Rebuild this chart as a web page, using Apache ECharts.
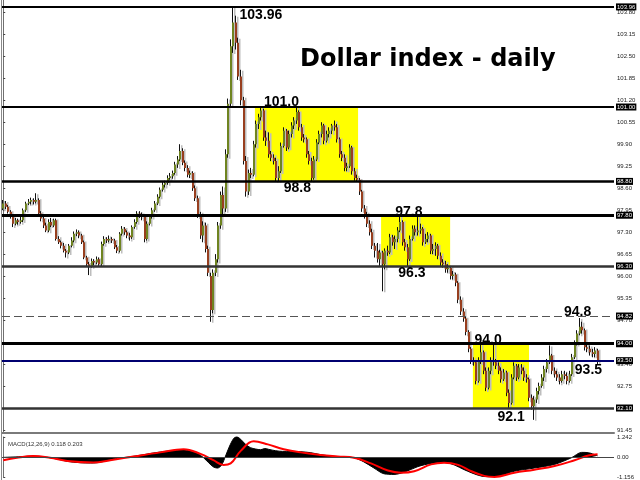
<!DOCTYPE html>
<html><head><meta charset="utf-8">
<script src="https://cdn.jsdelivr.net/npm/echarts@6/dist/echarts.min.js"></script>
<style>html,body{margin:0;padding:0;background:#fff}#c{width:640px;height:480px}</style>
</head><body><div id="c"></div>
<script>
// ---- DATA ----
const title = 'Dollar index - daily';
const macdTitle = 'MACD(12,26,9) 0.118 0.203';
// daily candles [open, close, low, high]
const ohlc = [
[98.00,98.15,97.95,98.25],[98.15,98.05,97.98,98.22],[98.05,97.90,97.85,98.10],[97.90,97.75,97.70,97.95],[97.75,97.55,97.45,97.80],
[97.55,97.65,97.50,97.72],[97.65,97.60,97.52,97.70],[97.60,97.65,97.55,97.75],[97.65,97.95,97.60,98.00],[97.95,98.15,97.90,98.20],
[98.15,98.20,98.10,98.28],[98.20,98.25,98.12,98.32],[98.25,98.20,98.12,98.30],[98.20,98.25,98.15,98.45],[98.25,97.85,97.80,98.30],
[97.85,97.70,97.62,97.92],[97.70,97.50,97.42,97.75],[97.50,97.35,97.30,97.58],[97.35,97.60,97.30,97.68],[97.60,97.50,97.45,97.72],
[97.50,97.65,97.45,97.70],[97.65,97.10,97.05,97.70],[97.10,97.00,96.95,97.18],[97.00,96.90,96.82,97.05],[96.90,96.75,96.70,96.98],
[96.75,96.70,96.55,96.80],[96.70,96.90,96.65,96.95],[96.90,97.05,96.85,97.15],[97.05,97.25,97.00,97.32],[97.25,97.30,97.18,97.38],
[97.30,97.20,97.12,97.35],[97.20,97.00,96.95,97.25],[97.00,96.55,96.50,97.05],[96.55,96.35,96.28,96.60],[96.35,96.30,96.03,96.42],
[96.30,96.45,96.25,96.52],[96.45,96.40,96.32,96.50],[96.40,96.50,96.35,96.58],[96.50,96.35,96.30,96.55],[96.35,96.95,96.30,97.02],
[96.95,97.10,96.90,97.18],[97.10,97.05,96.98,97.15],[97.05,97.10,97.00,97.20],[97.10,97.05,96.98,97.15],[97.05,96.85,96.80,97.10],
[96.85,96.75,96.68,96.92],[96.75,97.25,96.70,97.30],[97.25,97.40,97.20,97.48],[97.40,97.30,97.22,97.45],[97.30,97.20,97.12,97.35],
[97.20,97.15,97.05,97.28],[97.15,97.45,97.10,97.50],[97.45,97.60,97.40,97.68],[97.60,97.85,97.55,97.92],[97.85,97.80,97.72,97.92],
[97.80,97.75,97.65,97.88],[97.75,97.10,97.00,97.80],[97.10,97.55,97.05,97.62],[97.55,97.75,97.50,97.82],[97.75,97.95,97.70,98.02],
[97.95,98.15,97.90,98.22],[98.15,98.35,98.10,98.42],[98.35,98.55,98.30,98.62],[98.55,98.70,98.50,98.78],[98.70,98.75,98.62,98.82],
[98.75,98.90,98.70,98.98],[98.90,98.95,98.85,99.05],[98.95,99.05,98.88,99.12],[99.05,99.30,99.00,99.38],[99.30,99.45,99.20,99.55],
[99.45,99.70,99.40,99.90],[99.70,99.35,99.28,99.78],[99.35,99.20,99.10,99.42],[99.20,99.00,98.92,99.28],[99.00,99.05,98.90,99.12],
[99.05,98.60,98.52,99.10],[98.60,98.30,98.22,98.68],[98.30,97.80,97.72,98.38],[97.80,97.20,97.10,97.90],[97.20,97.50,97.00,97.62],
[97.50,96.80,96.70,97.58],[96.80,96.10,96.00,96.90],[96.00,95.00,94.65,96.10],
[95.00,96.10,94.90,96.20],[96.10,96.50,96.00,96.65],[96.50,97.50,96.40,97.60],[97.50,98.40,97.40,98.50],[98.40,98.00,97.80,98.65],
[98.00,99.60,97.90,99.75],[99.60,101.10,99.50,101.25],[101.10,102.80,101.00,103.00],[102.80,103.50,102.60,103.96],[103.50,102.90,102.70,103.70],
[102.90,101.90,101.80,103.05],[101.90,101.20,101.05,102.10],[101.20,99.40,99.30,101.30],[99.40,98.50,98.35,99.55],[98.50,99.05,98.40,99.15],
[99.05,99.00,98.90,99.20],[99.00,99.90,98.95,100.00],[99.90,100.50,99.80,100.60],[100.50,100.70,100.35,100.80],[100.70,100.90,100.60,101.00],
[100.90,100.10,100.00,100.95],[100.10,100.00,99.85,100.30],[100.00,99.60,99.50,100.25],[99.60,99.50,99.40,99.70],[99.50,99.40,99.30,99.60],
[99.40,98.90,98.80,99.50],[98.90,99.10,98.80,99.25],[99.10,99.85,99.05,99.95],[99.85,100.30,99.80,100.40],[100.30,99.80,99.70,100.35],
[99.80,100.20,99.75,100.30],[100.20,100.45,100.10,100.55],[100.45,100.60,100.35,100.70],[100.60,100.85,100.50,101.00],[100.85,100.40,100.30,100.90],
[100.40,100.10,100.00,100.50],[100.10,100.05,99.95,100.20],[100.05,99.60,99.50,100.10],[99.60,99.40,99.30,99.70],[99.40,98.90,98.80,99.50],
[98.90,99.45,98.85,99.55],[99.45,99.95,99.40,100.05],[99.95,100.20,99.90,100.30],[100.20,100.45,100.10,100.55],[100.45,100.00,99.90,100.50],
[100.00,100.20,99.95,100.30],[100.20,100.30,100.10,100.40],[100.30,100.45,100.20,100.50],[100.45,100.40,100.30,100.60],[100.40,100.05,99.95,100.50],
[100.05,99.60,99.50,100.10],[99.60,99.50,99.40,99.70],[99.50,99.20,99.10,99.60],[99.20,99.25,99.10,99.35],[99.25,99.80,99.20,99.90],
[99.80,99.10,99.00,99.85],[99.10,98.90,98.82,99.20],[98.90,98.85,98.80,99.00],[98.85,98.50,98.40,98.90],[98.50,98.00,97.90,98.55],
[98.00,97.80,97.70,98.10],[97.80,97.55,97.45,97.90],[97.55,97.30,97.20,97.65],[97.30,96.90,96.80,97.40],[96.90,96.75,96.55,96.98],
[96.75,96.50,96.40,96.98],[96.50,96.70,96.30,96.78],[96.70,96.35,95.55,96.75],[96.35,96.75,96.20,96.82],[96.75,96.70,96.60,96.90],
[96.70,97.15,96.65,97.25],[97.15,97.00,96.90,97.22],[97.00,97.10,96.80,97.20],[97.10,97.35,97.00,97.45],[97.35,97.60,97.30,97.80],
[97.60,97.00,96.90,97.65],[97.00,96.85,96.75,97.10],[96.85,96.50,96.30,96.95],[96.50,97.10,96.45,97.20],[97.10,97.40,97.05,97.50],
[97.40,97.30,97.20,97.50],[97.30,97.35,97.20,97.80],[97.35,97.40,97.25,97.55],[97.40,97.00,96.90,97.45],[97.00,97.10,96.95,97.25],
[97.10,97.20,97.00,97.30],[97.20,96.75,96.65,97.25],[96.75,96.80,96.65,96.95],[96.80,96.90,96.60,97.00],[96.90,96.60,96.50,96.95],
[96.60,96.40,96.30,96.70],[96.40,96.35,96.25,96.50],[96.35,96.20,96.10,96.45],[96.20,96.25,96.10,96.35],[96.25,96.00,95.90,96.30],
[96.00,96.05,95.90,96.15],[96.05,95.80,95.70,96.10],[95.80,95.30,95.20,95.85],[95.30,94.95,94.85,95.40],[94.95,94.75,94.65,95.05],
[94.75,94.35,94.25,94.80],[94.35,93.85,93.75,94.40],[93.85,93.50,93.40,93.90],[93.50,93.45,93.35,93.60],[93.45,92.90,92.80,93.50],
[92.90,93.50,92.85,93.60],[93.50,93.75,93.40,94.00],[93.75,93.20,93.10,93.80],[93.20,92.70,92.60,93.30],[92.70,93.20,92.65,93.30],
[93.20,93.50,93.10,93.60],[93.50,93.45,93.35,94.00],[93.45,93.35,93.25,93.55],[93.35,93.20,93.10,93.45],[93.20,92.95,92.85,93.30],
[92.95,93.15,92.90,93.25],[93.15,92.55,92.45,93.20],[92.55,92.25,92.10,92.65],[92.25,93.00,92.20,93.10],[93.00,93.35,92.95,93.45],
[93.35,93.00,92.90,93.40],[93.00,93.30,92.95,93.40],[93.30,93.20,93.10,93.40],[93.20,93.00,92.90,93.30],[93.00,92.95,92.85,93.10],
[92.95,92.40,92.30,93.00],[92.40,92.15,92.05,92.50],[92.15,92.35,91.75,92.45],[92.35,92.60,92.25,92.70],[92.60,92.75,92.50,92.85],
[92.75,93.00,92.70,93.10],[93.00,93.25,92.90,93.35],[93.25,93.45,93.15,93.55],[93.45,93.65,93.40,93.95],[93.65,93.20,93.10,93.70],
[93.20,93.10,93.00,93.30],[93.10,93.00,92.90,93.20],[93.00,92.90,92.80,93.10],[92.90,93.10,92.85,93.20],[93.10,93.05,92.95,93.20],
[93.05,92.90,92.80,93.15],[92.90,93.10,92.85,93.20],[93.10,93.60,93.05,93.70],[93.60,94.00,93.55,94.10],[94.00,94.30,93.95,94.40],
[94.30,94.50,94.25,94.76],[94.50,94.40,94.30,94.65],[94.40,93.90,93.80,94.45],[93.90,93.85,93.75,94.00],[93.85,93.75,93.65,93.95],
[93.75,93.70,93.60,93.85],[93.70,93.80,93.60,93.90],[93.80,93.50,93.40,93.85]
];
const slots = 242; // bar slots across the chart (incl. empty right margin)
// MACD main (histogram) [bar index, value]
const macdMain = [
[0,0.02],[7,0.06],[12,0.1],[16,0.05],[18.5,0],[22.5,-0.12],[25.3,-0.22],[30.4,-0.3],[34.4,-0.32],[37.1,-0.3],
[40.3,-0.2],[42.3,-0.1],[46.3,-0.02],[51.4,0.08],[56.2,0.2],[60.1,0.3],[64.1,0.38],[68.1,0.45],[70.9,0.47],[74,0.4],
[76.8,0.25],[79.2,0],[81.2,-0.3],[83.1,-0.55],[84.7,-0.62],[86.3,-0.45],[87.9,0.1],[89.5,0.7],[91.1,1.15],[92.3,1.26],
[93.9,1.1],[95.8,0.8],[97.8,0.6],[99.8,0.52],[101.8,0.48],[103.4,0.55],[105,0.5],[107.7,0.42],[110.5,0.38],[113.7,0.38],
[117.6,0.36],[121.6,0.3],[125.6,0.18],[130.7,0.08],[134.7,0.05],[138.7,0],[142.6,-0.25],[146.6,-0.62],[150.5,-0.96],[154.5,-1.0],
[158.5,-0.87],[164,-0.53],[169.2,-0.34],[174.3,-0.28],[178.3,-0.43],[182.3,-0.72],[187.8,-1.05],[191.8,-1.15],[195.8,-1.1],[202.1,-0.81],
[210,-0.62],[218,-0.4],[224.7,0],[228.7,0.32],[231.4,0.3],[235,0.118]
];
// MACD signal [bar index, value]
const macdSignal = [
[0,-0.15],[5.4,0],[11.8,0.1],[18.5,0],[25.3,-0.19],[35.6,-0.28],[42.3,-0.15],[51.4,0.07],[62.1,0.32],[71.3,0.51],
[78,0.23],[83.1,-0.15],[87.1,-0.43],[89.9,-0.34],[93.9,0.41],[99,0.98],[104.6,0.8],[110.9,0.51],[117.6,0.32],[125.6,0.17],
[132.3,0.08],[138.7,0],[145.4,-0.34],[152.1,-0.77],[157.3,-0.9],[162.5,-0.81],[169.2,-0.4],[174.3,-0.3],[179.9,-0.43],[185.1,-0.81],
[190.2,-1.09],[194.2,-1.15],[202.1,-0.9],[210,-0.72],[218,-0.5],[225.9,-0.15],[231.4,0.13],[235,0.203]
];
const priceTicks = [91.45,92.10,92.75,93.40,94.05,94.70,95.35,96.00,96.65,97.30,97.95,98.60,99.25,99.90,100.55,101.20,101.85,102.50,103.15,103.80];
const macdTicks = [-1.156, 0, 1.242];
const levels = [103.96, 101.00, 98.80, 97.80, 96.30, 94.82, 94.00, 93.50, 92.10];
// range boxes: [fromBar, toBar, top, bottom]
const boxes = [[99.5,140.3,101.0,98.8],[149.4,176.7,97.8,96.3],[185.7,207.9,94.0,92.1]];
// annotations: [bar, price, text]
const notes = [[101.9,103.72,'103.96'],[110,101.15,'101.0'],[116.3,98.6,'98.8'],[160.4,97.9,'97.8'],[161.6,96.09,'96.3'],
[191.7,94.11,'94.0'],[200.8,91.83,'92.1'],[227.1,94.94,'94.8'],[231.4,93.22,'93.5']];

// ---- STYLES / CHART ----
const FONT = 'Liberation Sans';
const bull = '#6f8420', bear = '#983f1f';
const levelStyle = {
  '103.96':{color:'#000',width:2}, '101.00':{color:'#000',width:2}, '98.80':{color:'#000',width:2.5},
  '97.80':{color:'#000',width:3}, '96.30':{color:'#333',width:2.5}, '94.82':{color:'#555',width:1,type:[8,4]},
  '94.00':{color:'#000',width:3}, '93.50':{color:'#000070',width:2}, '92.10':{color:'#333',width:2.5}
};
const candleData = ohlc.map((r,i)=>[i, r[0], r[1], r[2], r[3]]);

function renderCandle(params, api){
  const i = api.value(0), o = api.value(1), c = api.value(2), l = api.value(3), h = api.value(4);
  const pO = api.coord([i,o]), pC = api.coord([i,c]), pL = api.coord([i,l]), pH = api.coord([i,h]);
  const x = Math.round(pO[0]);
  const top = Math.min(pO[1],pC[1]), bot = Math.max(pO[1],pC[1]);
  return {type:'group', children:[
    {type:'rect', shape:{x:x+1, y:pH[1]+1, width:1.5, height:Math.max(1,pL[1]-pH[1])}, style:{fill:'#bdbdbd'}},
    {type:'line', shape:{x1:x-0.5, y1:pH[1], x2:x-0.5, y2:pL[1]}, style:{stroke:'#111', lineWidth:1}},
    {type:'rect', shape:{x:x-1, y:top, width:2, height:Math.max(1,bot-top)}, style:{fill: c>=o?bull:bear}}
  ]};
}

const chart = echarts.init(document.getElementById('c'), null, {renderer:'canvas'});
chart.setOption({
  animation:false,
  backgroundColor:'#fff',
  title:[
    {text:title, left:295, top:43, textStyle:{fontFamily:'DejaVu Sans', fontSize:24, fontWeight:'bold', color:'#000'}},
    {text:macdTitle, left:3, top:436, textStyle:{fontFamily:FONT, fontSize:6, fontWeight:'normal', color:'#333'}}
  ],
  grid:[
    {left:2, right:26, top:0, height:433},
    {left:2, right:26, top:437, height:42}
  ],
  xAxis:[
    {type:'value', gridIndex:0, min:-0.5, max:slots-0.5, show:true, axisLabel:{show:false}, axisTick:{show:false}, splitLine:{show:false},
     axisLine:{show:true, onZero:false, lineStyle:{color:'#7a7a7a', width:2}}},
    {type:'value', gridIndex:1, min:-0.5, max:slots-0.5, show:false}
  ],
  yAxis:[
    {type:'value', gridIndex:0, position:'right', min:91.361, max:104.164, splitLine:{show:false},
     axisLine:{show:true, lineStyle:{color:'#707070', width:1}},
     axisTick:{show:true, inside:false, length:2, lineStyle:{color:'#444'}, customValues:priceTicks},
     axisLabel:{customValues:priceTicks, formatter:v=>v.toFixed(2), fontFamily:FONT, fontSize:6, color:'#222', margin:3}},
    {type:'value', gridIndex:1, position:'right', min:-1.156, max:1.242, splitLine:{show:false},
     axisLine:{show:true, lineStyle:{color:'#707070', width:1}},
     axisTick:{show:true, length:2, lineStyle:{color:'#444'}, customValues:macdTicks},
     axisLabel:{customValues:macdTicks, formatter:v=>(v===0?'0.00':String(v)), fontFamily:FONT, fontSize:6, color:'#222', margin:3, showMinLabel:true, showMaxLabel:true}}
  ],
  graphic:[
    {type:'line', shape:{x1:1.5,y1:0,x2:1.5,y2:480}, style:{stroke:'#8a8a8a', lineWidth:1}, z:50}
  ],
  series:[
    {type:'line', xAxisIndex:0, yAxisIndex:0, data:[], z:1, silent:true,
     markArea:{silent:true, itemStyle:{color:'#ffff00', opacity:1},
       data: boxes.map(b=>[{xAxis:b[0], yAxis:b[2]},{xAxis:b[1], yAxis:b[3]}])}},
    {type:'custom', xAxisIndex:0, yAxisIndex:0, renderItem:renderCandle, data:candleData, z:2, clip:true,
     encode:{x:0, y:[1,2,3,4]}},
    {type:'line', xAxisIndex:0, yAxisIndex:0, data:[], z:5, silent:true,
     markLine:{silent:true, symbol:['none','none'], animation:false,
       data: levels.map(v=>({yAxis:v, lineStyle:Object.assign({type:'solid'}, levelStyle[v.toFixed(2)]),
         label:{show:true, position:'end', distance:2, formatter:v.toFixed(2), backgroundColor:'#000', color:'#fff',
                fontFamily:FONT, fontSize:6, padding:[1,1,0,1]}}))},
     markPoint:{silent:true, symbol:'rect', symbolSize:0,
       data: notes.map(n=>({coord:[n[0],n[1]], value:n[2],
         label:{show:true, position:'inside', formatter:n[2], fontFamily:FONT, fontSize:14, fontWeight:'bold', color:'#000'}}))}},
    {type:'line', xAxisIndex:1, yAxisIndex:1, data:macdMain, showSymbol:false, smooth:0.3, z:2,
     lineStyle:{color:'#000', width:1}, areaStyle:{color:'#000', opacity:1, origin:0},
     markLine:{silent:true, symbol:['none','none'], label:{show:false}, data:[{yAxis:0}], lineStyle:{color:'#444', width:1, type:'solid'}}},
    {type:'line', xAxisIndex:1, yAxisIndex:1, data:macdSignal, showSymbol:false, smooth:0.4, z:3,
     lineStyle:{color:'#ff0000', width:2}}
  ]
});
</script></body></html>
